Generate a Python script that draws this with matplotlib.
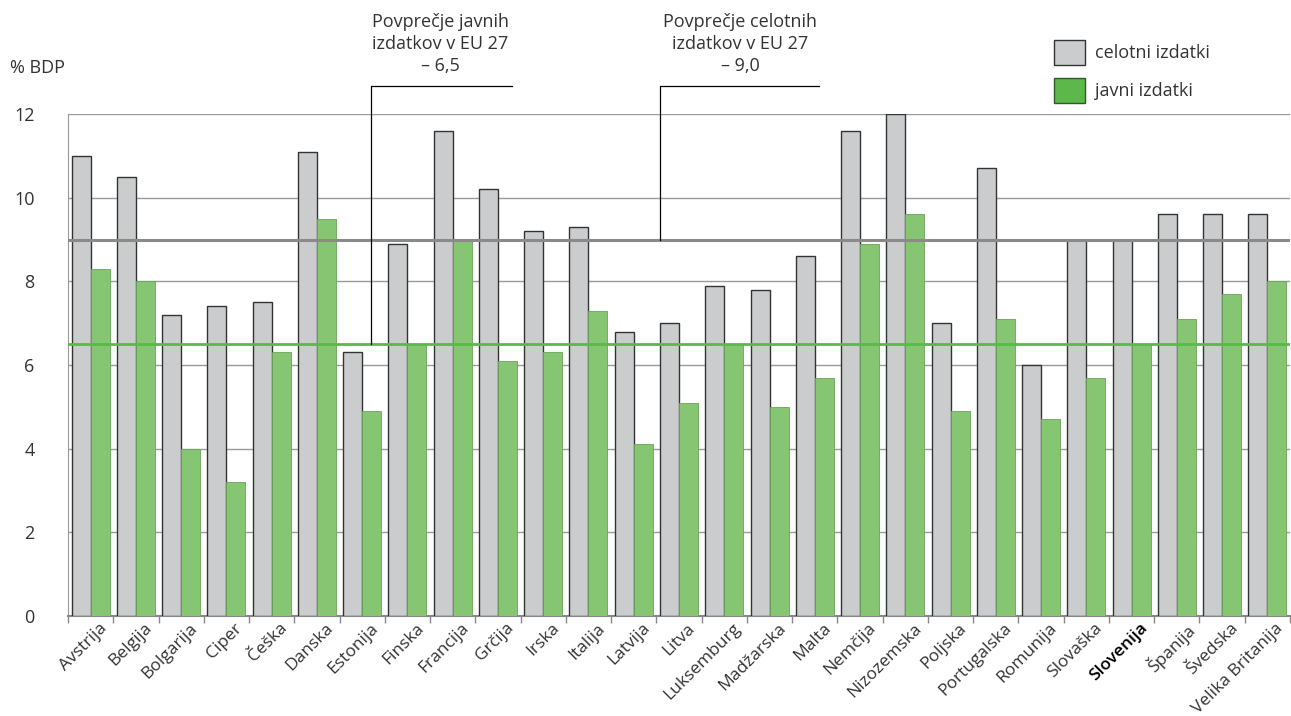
import matplotlib.pyplot as plt
import matplotlib.transforms as mtransforms
import numpy as np
from matplotlib.patches import Patch

plt.rcParams['font.family'] = ['Open Sans', 'DejaVu Sans']

countries = ["Avstrija", "Belgija", "Bolgarija", "Ciper", "Češka", "Danska", "Estonija",
             "Finska", "Francija", "Grčija", "Irska", "Italija", "Latvija", "Litva",
             "Luksemburg", "Madžarska", "Malta", "Nemčija", "Nizozemska", "Poljska",
             "Portugalska", "Romunija", "Slovaška", "Slovenija", "Španija", "Švedska",
             "Velika Britanija"]
celotni = [11.0, 10.5, 7.2, 7.4, 7.5, 11.1, 6.3, 8.9, 11.6, 10.2, 9.2, 9.3, 6.8, 7.0,
           7.9, 7.8, 8.6, 11.6, 12.0, 7.0, 10.7, 6.0, 9.0, 9.0, 9.6, 9.6, 9.6]
javni = [8.3, 8.0, 4.0, 3.2, 6.3, 9.5, 4.9, 6.5, 9.0, 6.1, 6.3, 7.3, 4.1, 5.1,
         6.5, 5.0, 5.7, 8.9, 9.6, 4.9, 7.1, 4.7, 5.7, 6.5, 7.1, 7.7, 8.0]
eu_javni = 6.5
eu_celotni = 9.0

gray = '#cbcccd'
green = '#86c672'
green_line = '#5bb84a'
txt = '#333333'

fig = plt.figure(figsize=(12.91, 7.16), dpi=100)
ax = fig.add_axes([68/1291, 1 - 616/716, 1222/1291, 502/716])

x = np.arange(len(countries))
w = 0.42
ax.bar(x - w/2, celotni, w, color=gray, edgecolor='#333333', linewidth=1.0, zorder=3)
ax.bar(x + w/2, javni, w, color=green, edgecolor='#6aa35a', linewidth=0.6, zorder=3)

ax.set_xlim(-0.5, len(countries) - 0.5)
ax.set_ylim(0, 12)
ax.set_yticks(range(0, 13, 2))
ax.yaxis.grid(True, color='#9a9a9a', linewidth=1.0, zorder=0)
ax.tick_params(axis='y', length=0, pad=24, labelsize=13, labelcolor=txt)

ax.set_xticks(x)
ax.set_xticklabels(countries, rotation=45, ha='right', rotation_mode='anchor',
                   fontsize=12.5, color=txt)
ax.tick_params(axis='x', length=0, pad=3)
ax.set_xticks(np.arange(-0.5, len(countries)), minor=True)
ax.tick_params(axis='x', which='minor', length=5, color='#888888', width=1)
shift = mtransforms.ScaledTranslation(8/100, 0, fig.dpi_scale_trans)
for lbl in ax.get_xticklabels():
    lbl.set_transform(lbl.get_transform() + shift)
    if lbl.get_text() == "Slovenija":
        lbl.set_fontweight('semibold')
        lbl.set_color('black')

for s in ['top', 'right']:
    ax.spines[s].set_visible(False)
ax.spines['left'].set_color('#9a9a9a')
ax.spines['bottom'].set_color('#888888')
ax.spines['bottom'].set_linewidth(1.5)

# EU averages
ax.axhline(eu_celotni, color='#8a8a8a', linewidth=2.2, zorder=4)
ax.axhline(eu_javni, color=green_line, linewidth=2.0, zorder=4)

# Bracket callouts for the averages
top = 12.67
ax.plot([6.2, 6.2, 9.3], [eu_javni, top, top], color='black', lw=0.9, clip_on=False, zorder=5)
ax.plot([12.58, 12.58, 16.09], [eu_celotni, top, top], color='black', lw=0.9, clip_on=False, zorder=5)
ax.text(7.73, 12.93, f"Povprečje javnih\nizdatkov v EU 27\n– {eu_javni:.1f}".replace('.', ','),
        ha='center', va='bottom', fontsize=13, color=txt, linespacing=1.3)
ax.text(14.35, 12.93, f"Povprečje celotnih\nizdatkov v EU 27\n– {eu_celotni:.1f}".replace('.', ','),
        ha='center', va='bottom', fontsize=13, color=txt, linespacing=1.3)

fig.text(10/1291, 1 - 68/716, "% BDP", fontsize=13, color=txt, va='center')

# Legend
handles = [Patch(facecolor=gray, edgecolor='#333333', label='celotni izdatki'),
           Patch(facecolor='#5cb84a', edgecolor='#2f5a27', label='javni izdatki')]
fig.legend(handles=handles, loc='upper left', bbox_to_anchor=(1038/1291, 1 - 24/716),
           frameon=False, fontsize=13, handlelength=1.7, handleheight=1.7,
           labelspacing=0.75, handletextpad=0.55, labelcolor=txt)

fig.savefig('out.png', dpi=100)
